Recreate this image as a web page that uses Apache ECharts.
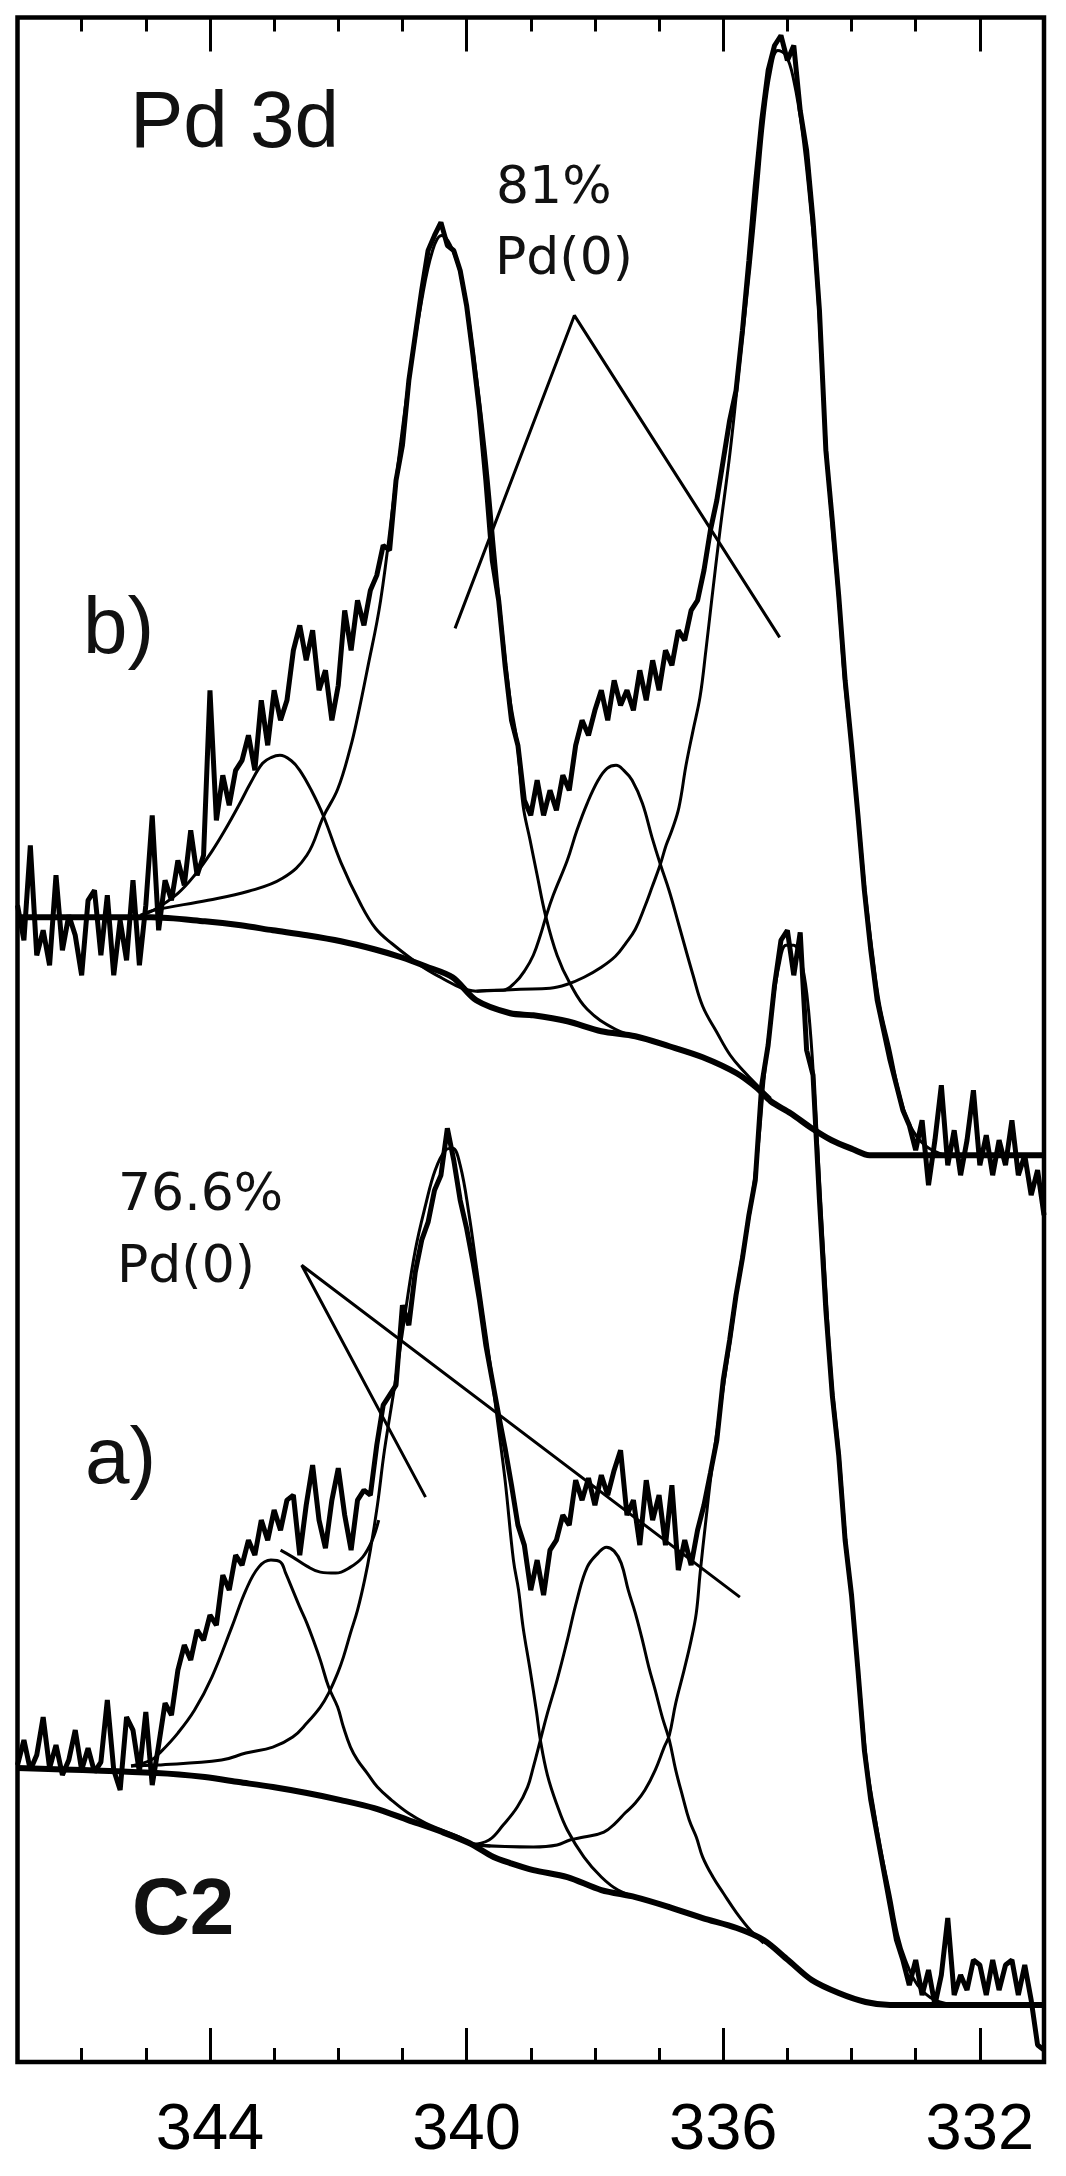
<!DOCTYPE html>
<html>
<head>
<meta charset="utf-8">
<title>Pd 3d</title>
<script src="https://cdn.jsdelivr.net/npm/echarts@6/dist/echarts.min.js"></script>
<style>
html, body { margin: 0; padding: 0; background: #fff; }
#XpsChart { width: 1066px; height: 2176px; }
</style>
</head>
<body>
<div id="XpsChart"></div>
<script>
// binding energy grid (eV) shared by both raw spectra
var bindingEnergy = [
    347.0, 346.9, 346.8, 346.7, 346.6, 346.5, 346.4, 346.3, 346.2, 346.1,
    346.0, 345.9, 345.8, 345.7, 345.6, 345.5, 345.4, 345.3, 345.2, 345.1,
    345.0, 344.9, 344.8, 344.7, 344.6, 344.5, 344.4, 344.3, 344.2, 344.1,
    344.0, 343.9, 343.8, 343.7, 343.6, 343.5, 343.4, 343.3, 343.2, 343.1,
    343.0, 342.9, 342.8, 342.7, 342.6, 342.5, 342.4, 342.3, 342.2, 342.1,
    342.0, 341.9, 341.8, 341.7, 341.6, 341.5, 341.4, 341.3, 341.2, 341.1,
    341.0, 340.9, 340.8, 340.7, 340.6, 340.5, 340.4, 340.3, 340.2, 340.1,
    340.0, 339.9, 339.8, 339.7, 339.6, 339.5, 339.4, 339.3, 339.2, 339.1,
    339.0, 338.9, 338.8, 338.7, 338.6, 338.5, 338.4, 338.3, 338.2, 338.1,
    338.0, 337.9, 337.8, 337.7, 337.6, 337.5, 337.4, 337.3, 337.2, 337.1,
    337.0, 336.9, 336.8, 336.7, 336.6, 336.5, 336.4, 336.3, 336.2, 336.1,
    336.0, 335.9, 335.8, 335.7, 335.6, 335.5, 335.4, 335.3, 335.2, 335.1,
    335.0, 334.9, 334.8, 334.7, 334.6, 334.5, 334.4, 334.3, 334.2, 334.1,
    334.0, 333.9, 333.8, 333.7, 333.6, 333.5, 333.4, 333.3, 333.2, 333.1,
    333.0, 332.9, 332.8, 332.7, 332.6, 332.5, 332.4, 332.3, 332.2, 332.1,
    332.0, 331.9, 331.8, 331.7, 331.6, 331.5, 331.4, 331.3, 331.2, 331.1,
    331.0
];

// b) raw counts (a.u., offset spectrum)
var spectrumB = [
    1157, 1122, 1217, 1107, 1132, 1097, 1187, 1112, 1147, 1127,
    1087, 1162, 1172, 1107, 1167, 1087, 1142, 1102, 1182, 1097,
    1157, 1247, 1132, 1182, 1162, 1202, 1177, 1232, 1187, 1207,
    1372, 1242, 1287, 1257, 1292, 1302, 1327, 1292, 1362, 1317,
    1372, 1342, 1362, 1412, 1437, 1402, 1432, 1372, 1392, 1342,
    1377, 1452, 1412, 1462, 1437, 1472, 1487, 1517, 1512, 1582,
    1617, 1682, 1727, 1772, 1812, 1827, 1840, 1817, 1812, 1792,
    1757, 1707, 1652, 1582, 1502, 1462, 1397, 1342, 1317, 1262,
    1247, 1282, 1247, 1272, 1252, 1287, 1272, 1317, 1342, 1327,
    1352, 1372, 1342, 1382, 1357, 1372, 1352, 1392, 1362, 1402,
    1372, 1412, 1397, 1432, 1422, 1452, 1462, 1492, 1532, 1562,
    1602, 1642, 1672, 1732, 1802, 1877, 1942, 1992, 2017, 2027,
    2002, 2017, 1952, 1912, 1842, 1752, 1612, 1542, 1467, 1382,
    1317, 1247, 1172, 1112, 1062, 1032, 1002, 977, 952, 937,
    912, 942, 877, 922, 977, 897, 932, 887, 922, 972,
    897, 927, 887, 922, 897, 942, 887, 907, 867, 892,
    847
];

// a) raw counts (a.u.)
var spectrumA = [
    297, 322, 292, 307, 345, 294, 317, 287, 302, 332,
    292, 314, 290, 300, 362, 292, 272, 345, 332, 290,
    350, 277, 317, 359, 347, 392, 417, 402, 432, 422,
    447, 437, 487, 472, 507, 497, 522, 507, 542, 522,
    552, 532, 562, 567, 507, 557, 597, 542, 514, 562,
    594, 547, 512, 562, 572, 567, 617, 657, 667, 677,
    757, 737, 790, 822, 840, 872, 887, 934, 902, 862,
    834, 800, 762, 717, 682, 647, 614, 577, 537, 517,
    472, 502, 467, 512, 522, 547, 537, 582, 562, 584,
    557, 587, 567, 592, 612, 547, 562, 517, 582, 542,
    567, 517, 577, 492, 522, 497, 532, 557, 589, 622,
    682, 722, 767, 804, 847, 882, 977, 1017, 1077, 1122,
    1132, 1087, 1130, 1012, 987, 862, 752, 667, 607, 522,
    467, 392, 312, 262, 227, 192, 157, 122, 102, 77,
    102, 67, 92, 57, 87, 144, 67, 87, 72, 102,
    97, 67, 102, 72, 97, 102, 67, 97, 62, 17,
    12
];

// Shirley backgrounds [eV, counts]
var backgroundB = [[347.00,1145],[344.92,1145],[344.08,1141],[343.52,1137],[343.02,1132],[342.49,1127],[341.96,1121],[341.44,1113],[341.02,1105],[340.64,1096],[340.22,1085],[339.85,1062],[339.32,1049],[338.96,1047],[338.43,1041],[337.90,1031],[337.37,1026],[336.84,1016],[336.32,1005],[335.79,989],[335.47,974],[335.26,961],[334.95,949],[334.62,934],[334.31,922],[333.98,913],[333.72,907],[333.14,907],[331.00,907]];
var backgroundA = [[347.00,294],[344.83,289],[344.08,285],[343.55,280],[343.02,275],[342.49,269],[341.96,262],[341.44,254],[340.91,242],[340.38,230],[339.96,219],[339.58,205],[339.32,199],[338.96,192],[338.43,185],[337.90,172],[337.37,165],[336.84,155],[336.32,144],[335.79,134],[335.37,122],[334.99,102],[334.62,82],[334.20,69],[333.78,60],[333.40,57],[331.00,57]];

// fitted components, b)
var pdII32B = [[345.08,1147],[344.88,1152],[344.50,1169],[344.24,1187],[343.97,1211],[343.75,1234],[343.55,1257],[343.37,1279],[343.18,1299],[343.04,1305],[342.91,1307],[342.74,1302],[342.60,1292],[342.42,1272],[342.23,1246],[341.96,1200],[341.65,1158],[341.42,1134],[341.17,1119],[340.70,1096],[340.38,1084],[340.07,1074],[339.85,1071]];
var pd032B = [[345.08,1147],[344.88,1152],[344.03,1162],[343.40,1171],[342.87,1184],[342.49,1207],[342.23,1246],[342.01,1273],[341.81,1315],[341.70,1345],[341.55,1392],[341.34,1462],[341.12,1572],[340.91,1677],[340.70,1762],[340.53,1812],[340.39,1827],[340.25,1817],[340.07,1782],[339.90,1712],[339.71,1612],[339.55,1502],[339.43,1422],[339.32,1362],[339.21,1319],[339.12,1257],[339.01,1222],[338.90,1187],[338.77,1147],[338.59,1107],[338.39,1079],[338.12,1053],[337.68,1033],[337.30,1025]];
var pdII52B = [[339.85,1071],[339.55,1072],[339.43,1072],[339.24,1080],[339.09,1092],[338.96,1107],[338.85,1127],[338.77,1144],[338.65,1167],[338.43,1202],[338.28,1232],[338.12,1259],[337.95,1282],[337.81,1294],[337.67,1297],[337.55,1292],[337.42,1282],[337.26,1259],[337.11,1225],[336.98,1198],[336.84,1171],[336.69,1137],[336.47,1087],[336.32,1056],[336.10,1030],[335.89,1007],[335.68,991],[335.47,977],[335.26,964]];
var pd052B = [[339.85,1071],[339.16,1073],[338.70,1074],[338.43,1078],[338.17,1085],[337.90,1095],[337.68,1106],[337.53,1118],[337.37,1133],[337.22,1156],[337.11,1175],[336.98,1198],[336.89,1217],[336.80,1232],[336.69,1255],[336.58,1297],[336.47,1332],[336.36,1366],[336.27,1412],[336.18,1462],[336.05,1532],[335.89,1612],[335.74,1702],[335.58,1797],[335.47,1872],[335.37,1942],[335.26,1992],[335.15,2012],[335.02,2007],[334.90,1982],[334.77,1932],[334.65,1862],[334.54,1782],[334.42,1642],[334.31,1542],[334.20,1462],[334.11,1382],[334.00,1317],[333.89,1242],[333.78,1167],[333.67,1107],[333.56,1057],[333.40,1012],[333.25,967],[333.09,937],[332.86,917],[332.55,907]];

// fitted components, a)
var pdII32A = [[345.23,296],[344.92,302],[344.77,310],[344.50,329],[344.24,352],[343.97,385],[343.66,435],[343.44,472],[343.24,495],[343.05,502],[342.90,500],[342.82,489],[342.71,472],[342.60,455],[342.49,439],[342.39,422],[342.28,402],[342.15,375],[342.01,355],[341.92,335],[341.81,315],[341.70,302],[341.55,289],[341.39,275],[341.17,262],[340.91,249],[340.64,239],[340.38,232],[340.11,225],[339.94,219],[339.63,216]];
var pd032A = [[345.23,296],[344.83,297],[343.82,302],[343.44,309],[343.02,315],[342.71,325],[342.49,339],[342.28,355],[342.15,369],[342.01,389],[341.92,405],[341.81,429],[341.70,452],[341.59,482],[341.50,512],[341.39,557],[341.28,612],[341.12,677],[340.95,752],[340.80,812],[340.64,857],[340.49,892],[340.33,912],[340.22,914],[340.10,897],[339.96,847],[339.85,797],[339.74,747],[339.63,697],[339.52,642],[339.40,582],[339.27,502],[339.19,472],[339.12,435],[339.01,392],[338.91,350],[338.85,322],[338.74,287],[338.59,257],[338.43,232],[338.17,205],[337.90,185],[337.64,172],[337.30,164]];
var pdII52A = [[339.94,217],[339.65,222],[339.43,237],[339.21,255],[339.05,275],[338.96,295],[338.85,322],[338.74,349],[338.59,382],[338.43,422],[338.28,462],[338.12,495],[337.95,509],[337.82,515],[337.70,511],[337.59,499],[337.48,472],[337.37,449],[337.26,422],[337.16,395],[337.06,372],[336.95,345],[336.84,322],[336.74,292],[336.63,265],[336.53,242],[336.42,225],[336.32,205],[336.16,185],[336.00,169],[335.79,149],[335.58,132],[335.37,119]];
var pd052A = [[339.94,217],[338.96,215],[338.59,217],[338.39,222],[338.17,225],[337.86,230],[337.68,239],[337.53,249],[337.37,259],[337.22,272],[337.06,292],[336.92,315],[336.84,327],[336.74,359],[336.61,392],[336.50,422],[336.42,449],[336.36,489],[336.27,542],[336.18,592],[336.05,652],[335.89,722],[335.74,792],[335.58,852],[335.46,912],[335.35,992],[335.24,1052],[335.13,1097],[335.02,1117],[334.90,1117],[334.77,1097],[334.67,1052],[334.57,962],[334.49,872],[334.40,772],[334.31,682],[334.20,612],[334.09,522],[333.98,452],[333.87,372],[333.76,297],[333.65,252],[333.55,214],[333.40,167],[333.28,127],[333.16,102],[332.97,77],[332.70,62],[332.31,57]];
var envelopeA = [[342.90,512],[342.71,505],[342.49,496],[342.28,490],[342.04,489],[341.81,495],[341.62,505],[341.47,522],[341.37,542]];

// pointer lines from the Pd(0) labels
var pointerB = [[340.18,1434],[338.32,1747],[335.12,1425]];
var pointerA = [[340.64,565],[342.57,797],[335.74,465]];

var majorTicks = [332, 336, 340, 344];

$(function () {
    DrawXpsChart();
});

function $(fn) {
    if (document.readyState !== 'loading') fn();
    else document.addEventListener('DOMContentLoaded', fn);
}

function GetPairs(xs, ys) {
    var Ret = [];
    for (var i = 0; i < xs.length; i++) {
        Ret.push([xs[i], ys[i]]);
    }
    return Ret;
}

function GetLine(name, data, width, smooth) {
    return {
        name: name,
        type: 'line',
        data: data,
        showSymbol: false,
        smooth: smooth,
        silent: true,
        lineStyle: { color: '#000', width: width },
        z: 3
    };
}

function GetXAxis(position, ticks, length, showLabel) {
    var axis = {
        type: 'value',
        min: 331,
        max: 347,
        inverse: true,
        position: position,
        axisLine: { show: false, onZero: false },
        splitLine: { show: false },
        axisTick: { show: true, inside: true, length: length, lineStyle: { color: '#000', width: 3 } },
        axisLabel: { show: false }
    };
    if (ticks) {
        axis.axisTick.customValues = ticks;
    } else {
        axis.interval = 1;
    }
    if (showLabel) {
        axis.axisLabel = {
            show: true,
            customValues: ticks,
            margin: 37,
            color: '#000',
            fontSize: 65,
            fontFamily: '"Liberation Sans", Arial, sans-serif'
        };
    }
    return axis;
}

function GetText(text, x, y, font) {
    return {
        type: 'text',
        x: x,
        y: y,
        z: 10,
        style: {
            text: text,
            font: font,
            fill: '#111',
            verticalAlign: 'middle',
            textVerticalAlign: 'middle'
        }
    };
}

function DrawXpsChart() {
    var myChart = echarts.init(document.getElementById('XpsChart'));
    var bigFont = '80px "Liberation Sans", Arial, sans-serif';
    var smallFont = '52px "DejaVu Sans", sans-serif';
    var option = {
        animation: false,
        backgroundColor: '#fff',
        grid: {
            left: 17.5,
            right: 22,
            top: 17.5,
            bottom: 114,
            show: true,
            borderColor: '#000',
            borderWidth: 4.5
        },
        xAxis: [
            GetXAxis('bottom', majorTicks, 34, true),
            GetXAxis('bottom', null, 14, false),
            GetXAxis('top', majorTicks, 34, false),
            GetXAxis('top', null, 14, false)
        ],
        yAxis: { type: 'value', min: 0, max: 2045, show: false },
        series: [
            GetLine('bg b', backgroundB, 6, 0.3),
            GetLine('bg a', backgroundA, 6, 0.3),
            GetLine('Pd(II) 3d3/2 b', pdII32B, 3, 0.4),
            GetLine('Pd(0) 3d3/2 b', pd032B, 3, 0.4),
            GetLine('Pd(II) 3d5/2 b', pdII52B, 3, 0.4),
            GetLine('Pd(0) 3d5/2 b', pd052B, 3, 0.4),
            GetLine('Pd(II) 3d3/2 a', pdII32A, 3, 0.4),
            GetLine('Pd(0) 3d3/2 a', pd032A, 3, 0.4),
            GetLine('Pd(II) 3d5/2 a', pdII52A, 3, 0.4),
            GetLine('Pd(0) 3d5/2 a', pd052A, 3, 0.4),
            GetLine('envelope a', envelopeA, 3, 0.4),
            GetLine('pointer b', pointerB, 3, false),
            GetLine('pointer a', pointerA, 3, false),
            GetLine('b', GetPairs(bindingEnergy, spectrumB), 5, false),
            GetLine('a', GetPairs(bindingEnergy, spectrumA), 5, false)
        ],
        graphic: [
            GetText('Pd 3d', 130, 125, bigFont),
            GetText('81%', 496, 189, smallFont),
            GetText('Pd(0)', 495, 260, smallFont),
            GetText('b)', 83, 631, bigFont),
            GetText('76.6%', 118, 1196, smallFont),
            GetText('Pd(0)', 117, 1268, smallFont),
            GetText('a)', 85, 1461, bigFont),
            GetText('C2', 132, 1912, 'bold ' + bigFont)
        ]
    };
    myChart.setOption(option);
}
</script>
</body>
</html>
